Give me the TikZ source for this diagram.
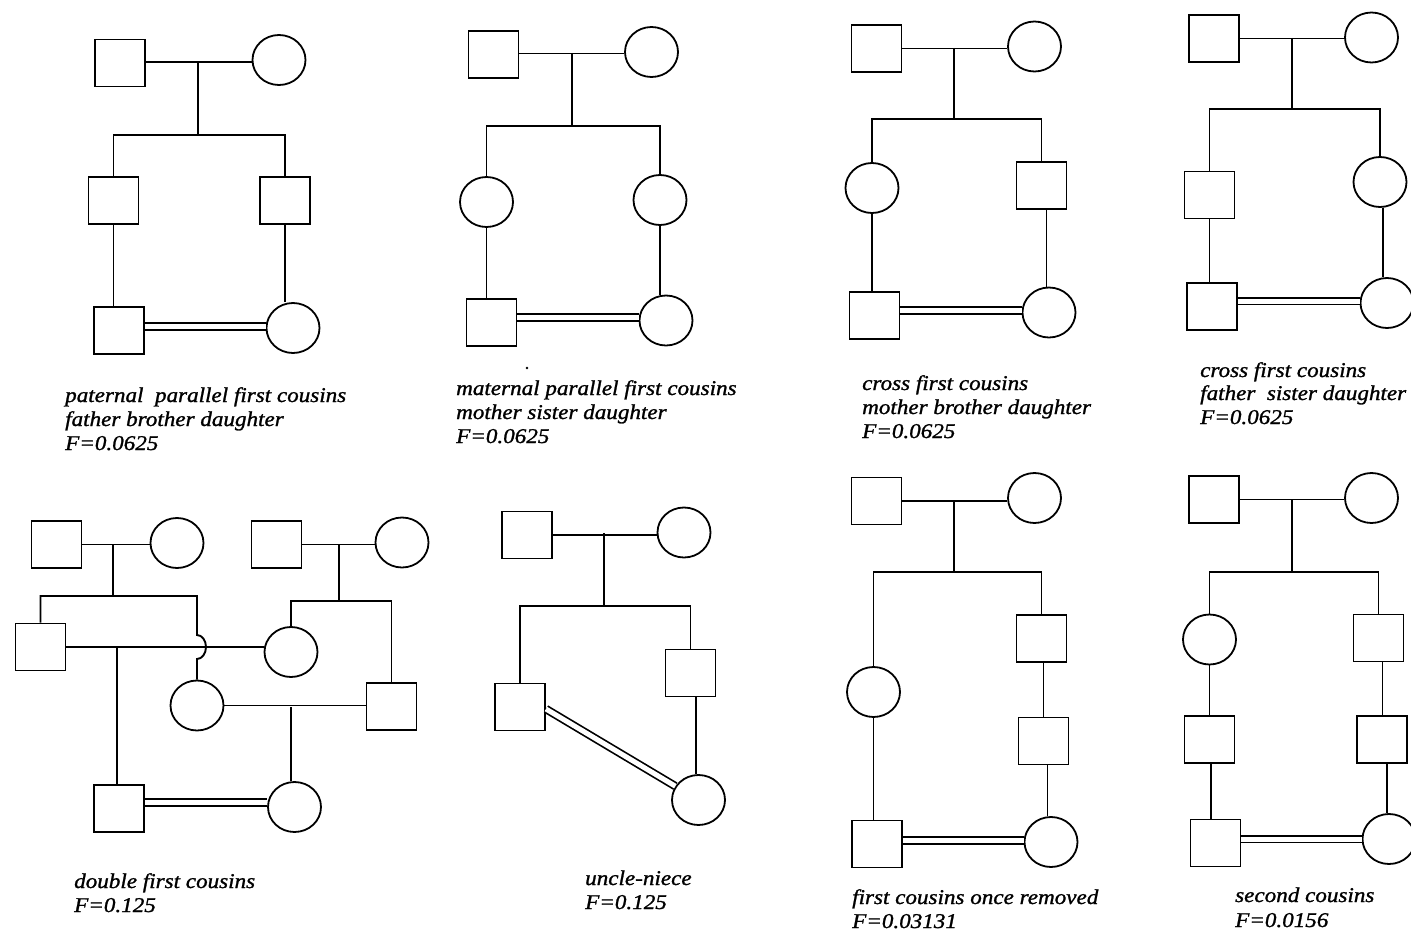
\documentclass[tikz,border=0pt]{standalone}
\usepackage{fontspec}
\newfontfamily\lblfont[FakeStretch=1.1,FakeBold=1.2]{Liberation Serif}
\usetikzlibrary{shapes.geometric,calc}
\begin{document}
\begin{tikzpicture}[x=1pt,y=-1pt,
  male/.style={draw, rectangle, minimum width=50pt, minimum height=47pt, inner sep=0pt, line width=1.9pt},
  female/.style={draw, ellipse, minimum width=53pt, minimum height=50pt, inner sep=0pt, line width=1.8pt},
  link/.style={line width=1.9pt},
  consang/.style={double, double distance=5pt, line width=1.7pt},
  lbl/.style={anchor=base west, inner sep=0pt, font={\lblfont\itshape\fontsize{21pt}{24pt}\selectfont}}]
\useasboundingbox[fill=white] (0,0) rectangle (1411,934);

% ---------- 1: paternal parallel first cousins
\node[male]   (aF)  at (120,63) {};
\node[female] (aM)  at (279,60) {};
\node[male]   (aC1) at (113.5,200.5) {};
\node[male]   (aC2) at (285,200.5) {};
\node[male]   (aG1) at (119,330.5) {};
\node[female] (aG2) at (293,328) {};
\coordinate (am) at (198,62);
\coordinate (as) at (198,135);
\draw[link] ([yshift=1pt]aF.east) -- ([yshift=1pt]aF.east -| aM.west);
\draw[link] (am) -- (as);
\draw[link] (aC1.north) |- (as) -| (aC2.north);
\draw[link] (aC1.south) -- (aC1.south |- aG1.north);
\draw[link] (aC2.south) -- (aC2.south |- aG2.north);
\draw[consang] ([yshift=4pt]aG1.east) -- ([yshift=4pt]aG1.east -| aG2.west);
\node[lbl] (at1) at (65,402) {paternal\ \ parallel first cousins};
\node[lbl] (at2) at (65,426) {father brother daughter};
\node[lbl] (at3) at (65,450) {F=0.0625};

% ---------- 2: maternal parallel first cousins
\node[male]   (bF)  at (493.5,54.5) {};
\node[female] (bM)  at (651.5,52) {};
\node[female] (bC1) at (486.5,202) {};
\node[female] (bC2) at (660,200) {};
\node[male]   (bG1) at (491.5,322.5) {};
\node[female] (bG2) at (666,320.5) {};
\coordinate (bm) at (572,53);
\coordinate (bs) at (572,126);
\draw[link] ([yshift=1pt]bF.east) -- ([yshift=1pt]bF.east -| bM.west);
\draw[link] (bm) -- (bs);
\draw[link] (bC1.north) |- (bs) -| (bC2.north);
\draw[link] (bC1.south) -- (bC1.south |- bG1.north);
\draw[link] (bC2.south) -- (bC2.south |- bG2.north);
\draw[consang] ([yshift=5pt]bG1.east) -- ([yshift=5pt]bG1.east -| bG2.west);
\fill (527,368) circle (1.3pt);
\node[lbl] (bt1) at (456,395) {maternal parallel first cousins};
\node[lbl] (bt2) at (456,419) {mother sister daughter};
\node[lbl] (bt3) at (456,443) {F=0.0625};

% ---------- 3: cross first cousins, mother brother daughter
\node[male]   (cF)  at (876.5,48.5) {};
\node[female] (cM)  at (1034.5,46.5) {};
\node[female] (cC1) at (872,188) {};
\node[male]   (cC2) at (1041.5,185.5) {};
\node[male]   (cG1) at (874.5,315.5) {};
\node[female] (cG2) at (1049,312.5) {};
\coordinate (cm) at (954,48);
\coordinate (cs) at (954,119);
\draw[link] (cF.east) -- (cF.east -| cM.west);
\draw[link] (cm) -- (cs);
\draw[link] (cC1.north) |- (cs) -| (cC2.north);
\draw[link] (cC1.south) -- (cC1.south |- cG1.north);
\draw[link] ([xshift=5pt]cC2.south) -- ([xshift=5pt]cC2.south |- cG2.north);
\draw[consang] ([yshift=5pt]cG1.east) -- ([yshift=5pt]cG1.east -| cG2.west);
\node[lbl] (ct1) at (862,390) {cross first cousins};
\node[lbl] (ct2) at (862,414) {mother brother daughter};
\node[lbl] (ct3) at (862,438) {F=0.0625};

% ---------- 4: cross first cousins, father sister daughter
\node[male]   (dF)  at (1214,38.5) {};
\node[female] (dM)  at (1371.5,37.5) {};
\node[male]   (dC1) at (1209.5,195) {};
\node[female] (dC2) at (1380,182) {};
\node[male]   (dG1) at (1212,306.5) {};
\node[female] (dG2) at (1387,303) {};
\coordinate (dm) at (1292,38);
\coordinate (ds) at (1292,109);
\draw[link] (dF.east) -- (dF.east -| dM.west);
\draw[link] (dm) -- (ds);
\draw[link] (dC1.north) |- (ds) -| (dC2.north);
\draw[link] (dC1.south) -- (dC1.south |- dG1.north);
\draw[link] ([xshift=3pt]dC2.south) -- ([xshift=3pt]dC2.south |- dG2.north);
\draw[consang] ([yshift=5.5pt]dG1.east) -- ([yshift=5.5pt]dG1.east -| dG2.west);
\node[lbl] (dt1) at (1200,377) {cross first cousins};
\node[lbl] (dt2) at (1200,400) {father\ \ sister daughter};
\node[lbl] (dt3) at (1200,424) {F=0.0625};

% ---------- 5: double first cousins
\node[male]   (eA)  at (56.5,544.5) {};
\node[female] (eB)  at (177,543) {};
\node[male]   (eE)  at (276.5,544.5) {};
\node[female] (eF)  at (402,542.5) {};
\node[male]   (eSqB) at (40.5,647) {};
\node[female] (eD)  at (291,652) {};
\node[female] (eC)  at (197,705.5) {};
\node[male]   (eG)  at (391.5,706.5) {};
\node[male]   (eH)  at (119,808.5) {};
\node[female] (eI)  at (294.5,807) {};
\coordinate (em1) at (113,544);
\coordinate (es1) at (113,596);
\coordinate (em2) at (339,544);
\coordinate (es2) at (339,601);
\coordinate (ehop) at (197,635);
\coordinate (ej1) at (117,647);
\coordinate (ej2) at (291,707);
\draw[link] (eA.east) -- (eA.east -| eB.west);
\draw[link] (eE.east) -- (eE.east -| eF.west);
\draw[link] (em1) -- (es1);
\draw[link] (em2) -- (es2);
\draw[link] (eSqB.north) |- (es1) -| (ehop)
  arc[start angle=90, end angle=-90, x radius=9pt, y radius=12pt] -- (eC.north);
\draw[link] (eD.north) |- (es2) -| (eG.north);
\draw[link] (eSqB.east) -- (eSqB.east -| eD.west);
\draw[link] (eC.east) -- (eC.east -| eG.west);
\draw[link] (ej1) -- (ej1 |- eH.north);
\draw[link] (ej2) -- (ej2 |- eI.north);
\draw[consang] ([yshift=6pt]eH.east) -- ([yshift=6pt]eH.east -| eI.west);
\node[lbl] (et1) at (74,888) {double first cousins};
\node[lbl] (et2) at (74,912) {F=0.125};

% ---------- 6: uncle-niece
\node[male]   (fF) at (527,535) {};
\node[female] (fM) at (684,532.5) {};
\node[male]   (fL) at (520,707) {};
\node[male]   (fR) at (690.5,673) {};
\node[female] (fB) at (698.5,800) {};
\coordinate (fm) at (604,533);
\coordinate (fs) at (604,606);
\draw[link] (fF.east) -- (fF.east -| fM.west);
\draw[link] (fm) -- (fs);
\draw[link] (fL.north) |- (fs) -| (fR.north);
\draw[link] ([xshift=-2.5pt]fB.north |- fR.south) -- ([xshift=-2.5pt]fB.north);
\draw[consang] ([yshift=-2pt]fL.east) -- (fB);
\node[lbl] (ft1) at (585,885) {uncle-niece};
\node[lbl] (ft2) at (585,909) {F=0.125};

% ---------- 7: first cousins once removed
\node[male]   (gF)  at (876.5,501) {};
\node[female] (gM)  at (1034.5,498) {};
\node[female] (gL)  at (873.5,692) {};
\node[male]   (gR1) at (1041.5,638.5) {};
\node[male]   (gR2) at (1043.5,741) {};
\node[male]   (gG1) at (877,844) {};
\node[female] (gG2) at (1051,842) {};
\coordinate (gm) at (954,501);
\coordinate (gs) at (954,572);
\draw[link] (gF.east) -- (gF.east -| gM.west);
\draw[link] (gm) -- (gs);
\draw[link] (gL.north) |- (gs) -| (gR1.north);
\draw[link] (gL.south) -- (gL.south |- gG1.north);
\draw[link] ([xshift=2pt]gR1.south) -- ([xshift=2pt]gR1.south |- gR2.north);
\draw[link] ([xshift=4pt]gR2.south) -- ([xshift=4pt]gR2.south |- gG2.north);
\draw[consang] ([yshift=3.5pt]gG1.east) -- ([yshift=3.5pt]gG1.east -| gG2.west);
\node[lbl] (gt1) at (852,904) {first cousins once removed};
\node[lbl] (gt2) at (852,928) {F=0.03131};

% ---------- 8: second cousins
\node[male]   (hF)  at (1214,499.5) {};
\node[female] (hM)  at (1371.5,498) {};
\node[female] (hL1) at (1209.5,639.5) {};
\node[male]   (hL2) at (1209.5,739.5) {};
\node[male]   (hG1) at (1215.5,843) {};
\node[male]   (hR1) at (1378.5,638) {};
\node[male]   (hR2) at (1382,739.5) {};
\node[female] (hG2) at (1389,839) {};
\coordinate (hm) at (1292,499);
\coordinate (hs) at (1292,572);
\draw[link] (hF.east) -- (hF.east -| hM.west);
\draw[link] (hm) -- (hs);
\draw[link] (hL1.north) |- (hs) -| (hR1.north);
\draw[link] (hL1.south) -- (hL1.south |- hL2.north);
\draw[link] ([xshift=1.5pt]hL2.south) -- ([xshift=1.5pt]hL2.south |- hG1.north);
\draw[link] ([xshift=4pt]hR1.south) -- ([xshift=4pt]hR1.south |- hR2.north);
\draw[link] ([xshift=5pt]hR2.south) -- ([xshift=5pt]hR2.south |- hG2.north);
\draw[consang] ([yshift=4pt]hG1.east) -- ([yshift=4pt]hG1.east -| hG2.west);
\node[lbl] (ht1) at (1235,902) {second cousins};
\node[lbl] (ht2) at (1235,927) {F=0.0156};
\end{tikzpicture}
\end{document}
